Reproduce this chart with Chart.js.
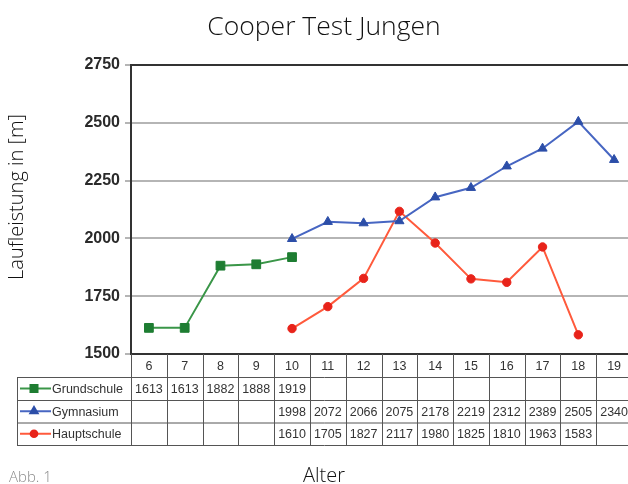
<!DOCTYPE html>
<html>
<head>
<meta charset="utf-8">
<script src="https://cdn.jsdelivr.net/npm/chart.js@4.4.1/dist/chart.umd.min.js"></script>
<style>
  html, body { margin: 0; padding: 0; background: #fff; overflow: hidden; }
  #wrap { width: 641px; height: 484px; }
</style>
</head>
<body>
<div id="wrap"><canvas id="chart" width="641" height="484"></canvas></div>
<script>
// ── Daten ─────────────────────────────────────────────────────────────
const ages        = ['6', '7', '8', '9', '10', '11', '12', '13', '14', '15', '16', '17', '18', '19'];
const grundschule = [1613, 1613, 1882, 1888, 1919, null, null, null, null, null, null, null, null, null];
const gymnasium   = [null, null, null, null, 1998, 2072, 2066, 2075, 2178, 2219, 2312, 2389, 2505, 2340];
const hauptschule = [null, null, null, null, 1610, 1705, 1827, 2117, 1980, 1825, 1810, 1963, 1583, null];
const yTicks      = [1500, 1750, 2000, 2250, 2500, 2750];

// ── Farben ────────────────────────────────────────────────────────────
const COLORS = {
  green:     '#3a9648', greenDot: '#1e7d32',
  blue:      '#4766c2', blueDot:  '#2c4ea8',
  red:       '#ff5a3c', redDot:   '#e8231a',
  grid:      '#b5b5b5',
  axis:      '#333333',
  table:     '#555555',
  text:      '#333333',
};

const series = [
  { label: 'Grundschule', data: grundschule, line: COLORS.green, dot: COLORS.greenDot, style: 'rect',     radius: 6.2 },
  { label: 'Gymnasium',   data: gymnasium,   line: COLORS.blue,  dot: COLORS.blueDot,  style: 'triangle', radius: 5.3 },
  { label: 'Hauptschule', data: hauptschule, line: COLORS.red,   dot: COLORS.redDot,   style: 'circle',   radius: 4.2 },
];

// ── Rahmen um den Plotbereich ─────────────────────────────────────────
const framePlugin = {
  id: 'frame',
  beforeDatasetsDraw(chart) {
    const { ctx, chartArea: a } = chart;
    ctx.save();
    ctx.strokeStyle = COLORS.axis;
    ctx.lineWidth = 2;
    ctx.strokeRect(a.left, a.top, a.right - a.left, a.bottom - a.top);
    ctx.restore();
  },
};

// ── Datentabelle, Titel, Achsentitel ──────────────────────────────────
function drawMarker(ctx, s, x, y) {
  Chart.helpers.drawPoint(ctx, { pointStyle: s.style, radius: s.radius * 0.8, rotation: 0, borderWidth: 1 }, x, y);
}

const tablePlugin = {
  id: 'table',
  afterDraw(chart) {
    const { ctx, chartArea: a } = chart;
    const x = chart.scales.x;
    const cellW = (a.right - a.left) / ages.length;
    const rowTop = [a.bottom, 377, 400, 422.5, 445];
    const legLeft = 17;

    ctx.save();
    ctx.strokeStyle = COLORS.table;
    ctx.lineWidth = 1;

    // horizontale Linien
    for (let r = 1; r < rowTop.length; r++) {
      ctx.beginPath();
      ctx.moveTo(legLeft, rowTop[r] + 0.5);
      ctx.lineTo(a.right, rowTop[r] + 0.5);
      ctx.stroke();
    }
    // vertikale Linien
    ctx.beginPath();
    ctx.moveTo(legLeft + 0.5, rowTop[1]);
    ctx.lineTo(legLeft + 0.5, rowTop[4]);
    for (let i = 0; i <= ages.length; i++) {
      const lx = Math.round(a.left + i * cellW) + 0.5;
      ctx.moveTo(lx, a.bottom);
      ctx.lineTo(lx, rowTop[4]);
    }
    ctx.stroke();

    // Kopfzeile: Alter
    ctx.fillStyle = COLORS.text;
    ctx.font = '12.5px "Liberation Sans", Arial, sans-serif';
    ctx.textAlign = 'center';
    ctx.textBaseline = 'middle';
    ages.forEach((age, i) => {
      ctx.fillText(age, x.getPixelForValue(i), (rowTop[0] + rowTop[1]) / 2 + 1);
    });

    // Zeilen je Schulform
    series.forEach((s, r) => {
      const cy = (rowTop[r + 1] + rowTop[r + 2]) / 2 + 1;
      s.data.forEach((v, i) => {
        if (v == null) return;
        ctx.fillStyle = COLORS.text;
        ctx.textAlign = 'center';
        ctx.fillText(String(v), x.getPixelForValue(i), cy);
      });
      // Legendensymbol
      ctx.strokeStyle = s.line;
      ctx.lineWidth = 2;
      ctx.beginPath();
      ctx.moveTo(20, cy - 1);
      ctx.lineTo(51, cy - 1);
      ctx.stroke();
      ctx.fillStyle = s.dot;
      ctx.strokeStyle = s.dot;
      drawMarker(ctx, s, 34, cy - 1);
      ctx.fillStyle = COLORS.text;
      ctx.textAlign = 'left';
      ctx.fillText(s.label, 52, cy);
    });

    // Titel
    ctx.fillStyle = '#111';
    ctx.textAlign = 'center';
    ctx.font = '300 26.5px "Open Sans", sans-serif';
    ctx.fillText('Cooper Test Jungen', 324, 27);

    // Achsentitel
    ctx.font = '300 20px "Open Sans", sans-serif';
    ctx.fillText('Alter', 324, 476);
    ctx.save();
    ctx.translate(17, 197);
    ctx.rotate(-Math.PI / 2);
    ctx.fillText('Laufleistung in [m]', 0, 0);
    ctx.restore();

    // Abbildungsnummer
    ctx.fillStyle = '#8a8a8a';
    ctx.textAlign = 'left';
    ctx.font = '300 15px "Open Sans", sans-serif';
    ctx.fillText('Abb. 1', 9, 478);
    ctx.restore();
  },
};

new Chart(document.getElementById('chart'), {
  type: 'line',
  data: {
    labels: ages,
    datasets: series.map(s => ({
      label: s.label,
      data: s.data,
      borderColor: s.line,
      backgroundColor: s.dot,
      borderWidth: 2,
      pointStyle: s.style,
      pointRadius: s.radius,
      pointBackgroundColor: s.dot,
      pointBorderColor: s.dot,
      pointBorderWidth: 1,
      spanGaps: false,
      tension: 0,
    })),
  },
  options: {
    responsive: false,
    animation: false,
    devicePixelRatio: 1,
    layout: { padding: { left: 0, top: 65, right: 9, bottom: 130 } },
    plugins: { legend: { display: false }, title: { display: false }, tooltip: { enabled: false } },
    scales: {
      x: { display: false, offset: true },
      y: {
        min: yTicks[0],
        max: yTicks[yTicks.length - 1],
        afterFit: s => { s.width = 131; },
        afterBuildTicks: s => { s.ticks = yTicks.map(v => ({ value: v })); },
        ticks: {
          color: '#2a2a2a',
          padding: 5,
          font: { family: '"Liberation Sans", Arial, sans-serif', size: 16, weight: 'bold' },
          callback: v => String(v),
        },
        grid: { color: COLORS.grid, lineWidth: 2, tickLength: 6, tickColor: COLORS.grid },
        border: { color: COLORS.axis, width: 2 },
      },
    },
  },
  plugins: [framePlugin, tablePlugin],
});
</script>
</body>
</html>
